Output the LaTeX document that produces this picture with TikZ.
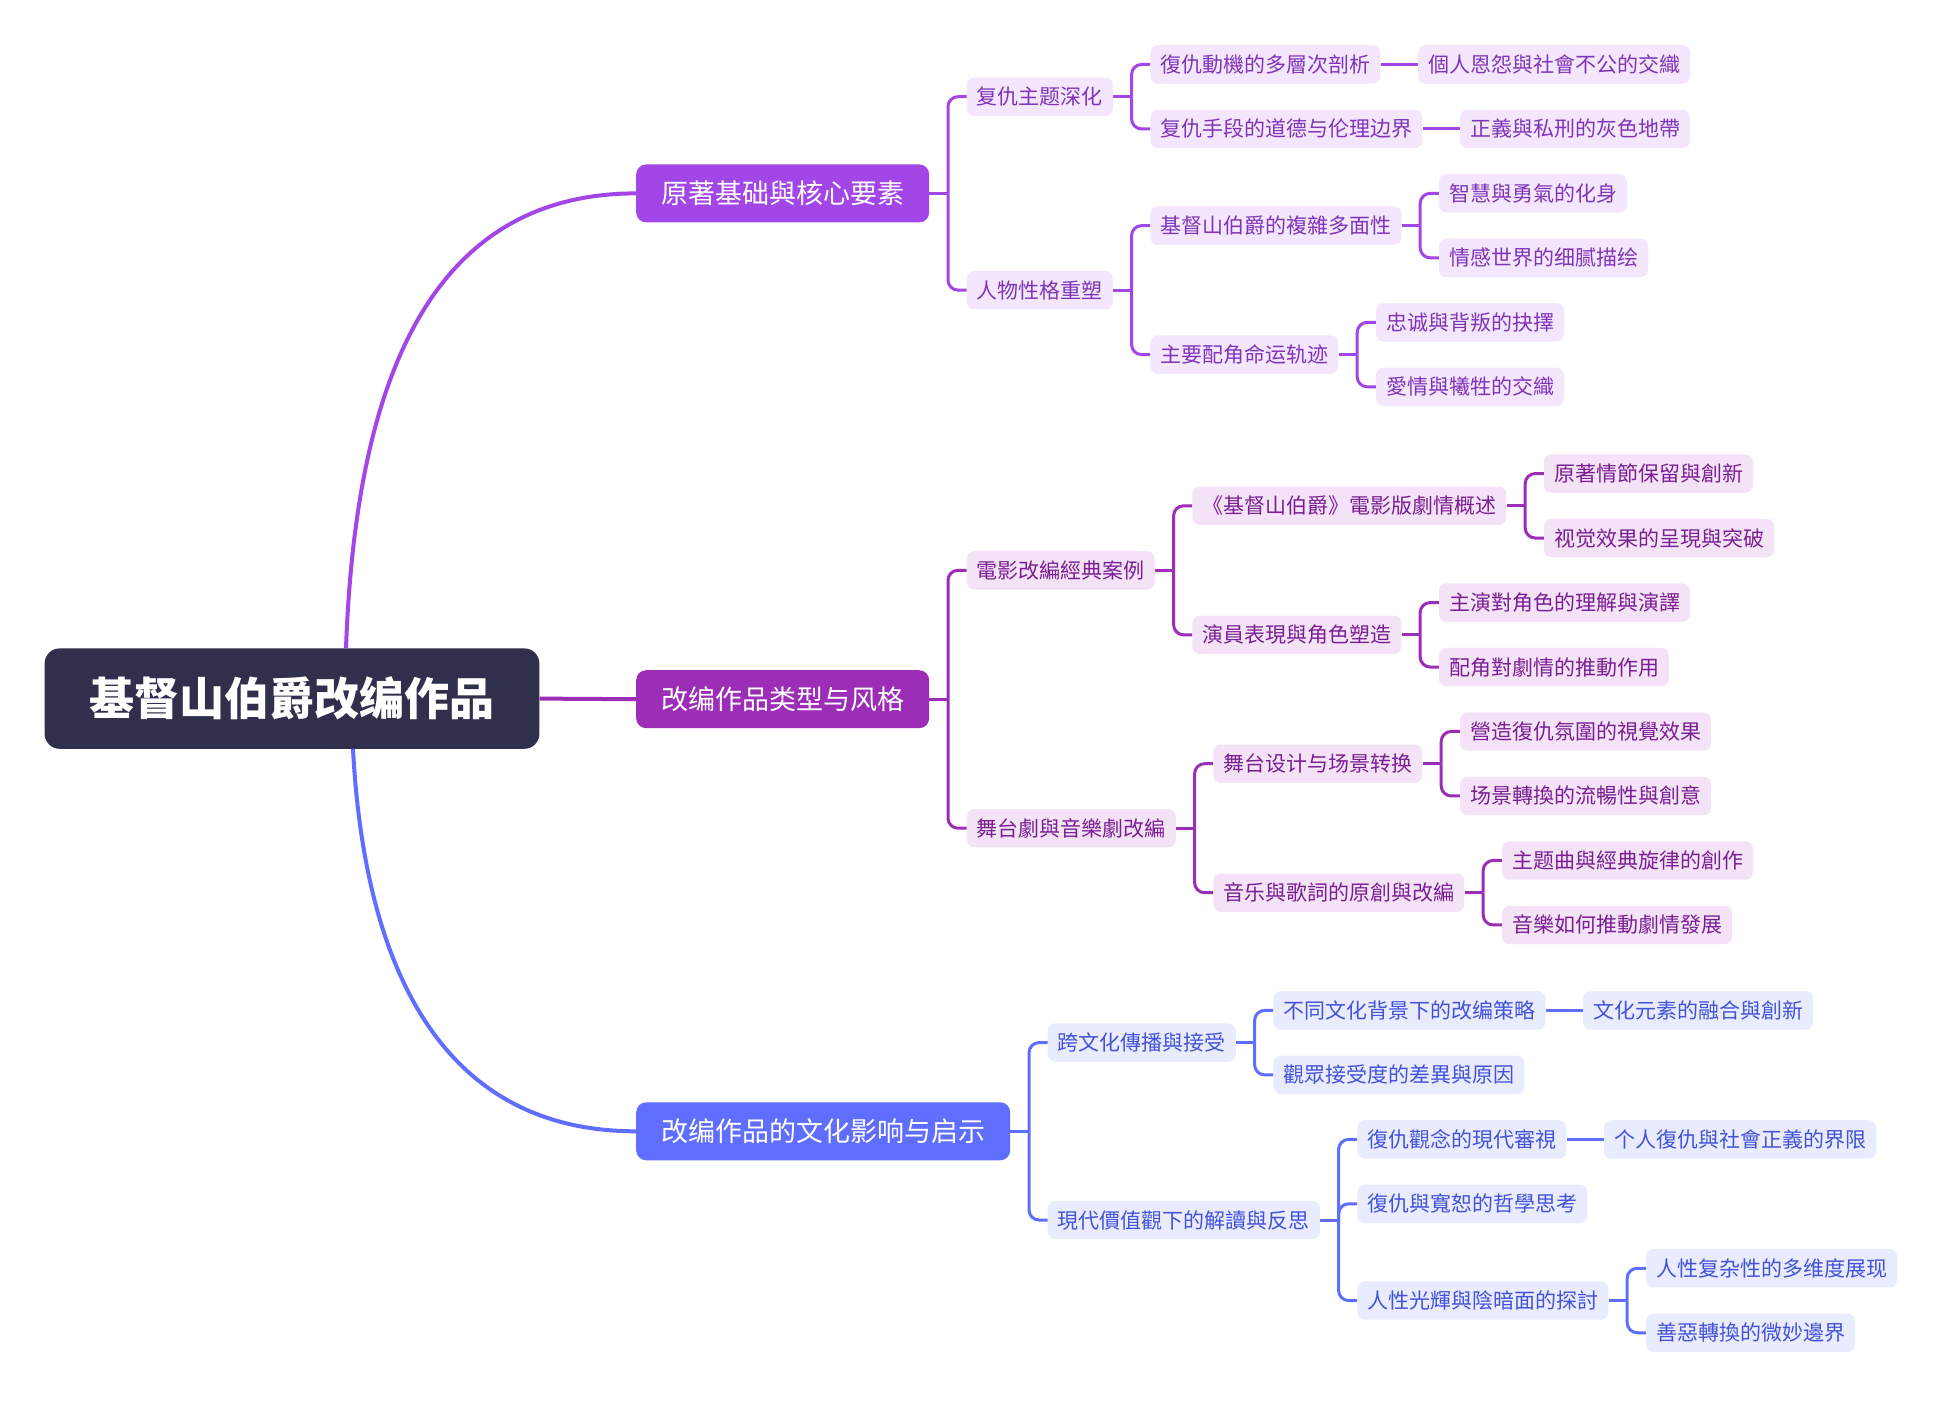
\documentclass[tikz,border=0pt]{standalone}
\usepackage{fontspec}
\setmainfont{Noto Sans CJK SC}
\usetikzlibrary{calc}
\definecolor{rootc}{HTML}{30304D}
\definecolor{pA}{HTML}{A346E8}\definecolor{pAl}{HTML}{F3E6FD}\definecolor{pAt}{HTML}{8035B8}
\definecolor{pB}{HTML}{9C2DB7}\definecolor{pBl}{HTML}{F4E3F7}\definecolor{pBt}{HTML}{7A1F93}
\definecolor{pC}{HTML}{5F6EFF}\definecolor{pCl}{HTML}{E9EBFF}\definecolor{pCt}{HTML}{4452D8}
\tikzset{
  base/.style={rectangle, rounded corners=7.5, inner xsep=10, inner ysep=0,
    minimum height=38.4, font=\fontsize{21}{21}\selectfont,
    text height=16.4pt, text depth=0.4pt, anchor=west},
  nA/.style={base, fill=pAl, text=pAt},
  nB/.style={base, fill=pBl, text=pBt},
  nC/.style={base, fill=pCl, text=pCt},
  lone/.style={rectangle, rounded corners=10, inner xsep=25, inner ysep=0,
    minimum height=58, font=\fontsize{27}{27}\selectfont,
    text height=21.1pt, text depth=0.5pt, anchor=west, text=white},
  rootbox/.style={rectangle, rounded corners=15, minimum width=494.7, minimum height=100.4,
    inner sep=0, font=\fontsize{45}{45}\selectfont\bfseries,
    text height=35.1pt, text depth=0.9pt, fill=rootc, text=white},
  cA/.style={draw=pA, line width=3},
  cB/.style={draw=pB, line width=3},
  cC/.style={draw=pC, line width=3},
  rc/.style={rounded corners=10},
}
\begin{document}
\begin{tikzpicture}[x=1pt,y=-1pt]
\fill[white] (0,0) rectangle (1944,1413);
\useasboundingbox (0,0) rectangle (1944,1413);

% root and first level
\node[rootbox] (root) at (292,698.6) {基督山伯爵改编作品};
\node[lone, fill=pA] (n1) at (636,193.4) {原著基础與核心要素};
\node[lone, fill=pB] (n2) at (636,699.2) {改编作品类型与风格};
\node[lone, fill=pC] (n3) at (636,1131.3) {改编作品的文化影响与启示};

\draw[draw=pA, line width=4] ($(root.north)+(54,0)$) .. controls (355,400) and (420,193.4) .. (n1.west);
\draw[draw=pB, line width=4] (root.east) -- (n2.west);
\draw[draw=pC, line width=4] ($(root.south)+(61,0)$) .. controls (364,957) and (435,1131.3) .. (n3.west);

% ---------- branch A ----------
\node[nA] (a1) at ($(n1.east)+(37.2,-96.7)$) {复仇主题深化};
\node[nA] (a2) at ($(n1.east)+(37.2,96.7)$) {人物性格重塑};
\node[nA] (a11) at ($(a1.east)+(37.2,-32.25)$) {復仇動機的多層次剖析};
\node[nA] (a12) at ($(a1.east)+(37.2,32.25)$) {复仇手段的道德与伦理边界};
\node[nA] (a111) at ($(a11.east)+(37.2,0)$) {個人恩怨與社會不公的交織};
\node[nA] (a121) at ($(a12.east)+(37.2,0)$) {正義與私刑的灰色地帶};
\node[nA] (a21) at ($(a2.east)+(37.2,-64.5)$) {基督山伯爵的複雜多面性};
\node[nA] (a22) at ($(a2.east)+(37.2,64.5)$) {主要配角命运轨迹};
\node[nA] (a211) at ($(a21.east)+(37.2,-32.25)$) {智慧與勇氣的化身};
\node[nA] (a212) at ($(a21.east)+(37.2,32.25)$) {情感世界的细腻描绘};
\node[nA] (a221) at ($(a22.east)+(37.2,-32.25)$) {忠诚與背叛的抉擇};
\node[nA] (a222) at ($(a22.east)+(37.2,32.25)$) {愛情與犧牲的交織};

\foreach \p in {n1,a1,a2,a21,a22}{\coordinate (\p b) at ($(\p.east)+(18.6,0)$); \draw[cA] (\p.east) -- (\p b);}
\foreach \p/\c in {n1/a1,n1/a2,a1/a11,a1/a12,a2/a21,a2/a22,a21/a211,a21/a212,a22/a221,a22/a222}
  {\draw[cA,rc] (\p b) |- (\c.west);}
\draw[cA] (a11.east) -- (a111.west);
\draw[cA] (a12.east) -- (a121.west);

% ---------- branch B ----------
\node[nB] (b1) at ($(n2.east)+(37.2,-128.9)$) {電影改編經典案例};
\node[nB] (b2) at ($(n2.east)+(37.2,129)$) {舞台劇與音樂劇改編};
\node[nB] (b11) at ($(b1.east)+(37.2,-64.5)$) {《基督山伯爵》電影版劇情概述};
\node[nB] (b12) at ($(b1.east)+(37.2,64.5)$) {演員表現與角色塑造};
\node[nB] (b111) at ($(b11.east)+(37.2,-32.25)$) {原著情節保留與創新};
\node[nB] (b112) at ($(b11.east)+(37.2,32.25)$) {视觉效果的呈現與突破};
\node[nB] (b121) at ($(b12.east)+(37.2,-32.25)$) {主演對角色的理解與演譯};
\node[nB] (b122) at ($(b12.east)+(37.2,32.25)$) {配角對劇情的推動作用};
\node[nB] (b21) at ($(b2.east)+(37.2,-64.5)$) {舞台设计与场景转换};
\node[nB] (b22) at ($(b2.east)+(37.2,64.5)$) {音乐與歌詞的原創與改編};
\node[nB] (b211) at ($(b21.east)+(37.2,-32.25)$) {營造復仇氛圍的視覺效果};
\node[nB] (b212) at ($(b21.east)+(37.2,32.25)$) {场景轉換的流暢性與創意};
\node[nB] (b221) at ($(b22.east)+(37.2,-32.25)$) {主题曲與經典旋律的創作};
\node[nB] (b222) at ($(b22.east)+(37.2,32.25)$) {音樂如何推動劇情發展};

\foreach \p in {n2,b1,b2,b11,b12,b21,b22}{\coordinate (\p b) at ($(\p.east)+(18.6,0)$); \draw[cB] (\p.east) -- (\p b);}
\foreach \p/\c in {n2/b1,n2/b2,b1/b11,b1/b12,b11/b111,b11/b112,b12/b121,b12/b122,b2/b21,b2/b22,b21/b211,b21/b212,b22/b221,b22/b222}
  {\draw[cB,rc] (\p b) |- (\c.west);}

% ---------- branch C ----------
\node[nC] (c1) at ($(n3.east)+(37.2,-88.7)$) {跨文化傳播與接受};
\node[nC] (c2) at ($(n3.east)+(37.2,88.7)$) {現代價值觀下的解讀與反思};
\node[nC] (c11) at ($(c1.east)+(37.2,-32.25)$) {不同文化背景下的改编策略};
\node[nC] (c12) at ($(c1.east)+(37.2,32.25)$) {觀眾接受度的差異與原因};
\node[nC] (c111) at ($(c11.east)+(37.2,0)$) {文化元素的融合與創新};
\node[nC] (c21) at ($(c2.east)+(37.2,-80.6)$) {復仇觀念的現代審視};
\node[nC] (c22) at ($(c2.east)+(37.2,-16.2)$) {復仇與寬恕的哲學思考};
\node[nC] (c23) at ($(c2.east)+(37.2,80.5)$) {人性光輝與陰暗面的探討};
\node[nC] (c211) at ($(c21.east)+(37.2,0)$) {个人復仇與社會正義的界限};
\node[nC] (c231) at ($(c23.east)+(37.2,-32.25)$) {人性复杂性的多维度展现};
\node[nC] (c232) at ($(c23.east)+(37.2,32.25)$) {善惡轉換的微妙邊界};

\foreach \p in {n3,c1,c2,c23}{\coordinate (\p b) at ($(\p.east)+(18.6,0)$); \draw[cC] (\p.east) -- (\p b);}
\foreach \p/\c in {n3/c1,n3/c2,c1/c11,c1/c12,c2/c21,c2/c22,c2/c23,c23/c231,c23/c232}
  {\draw[cC,rc] (\p b) |- (\c.west);}
\draw[cC] (c11.east) -- (c111.west);
\draw[cC] (c21.east) -- (c211.west);
\end{tikzpicture}
\end{document}
